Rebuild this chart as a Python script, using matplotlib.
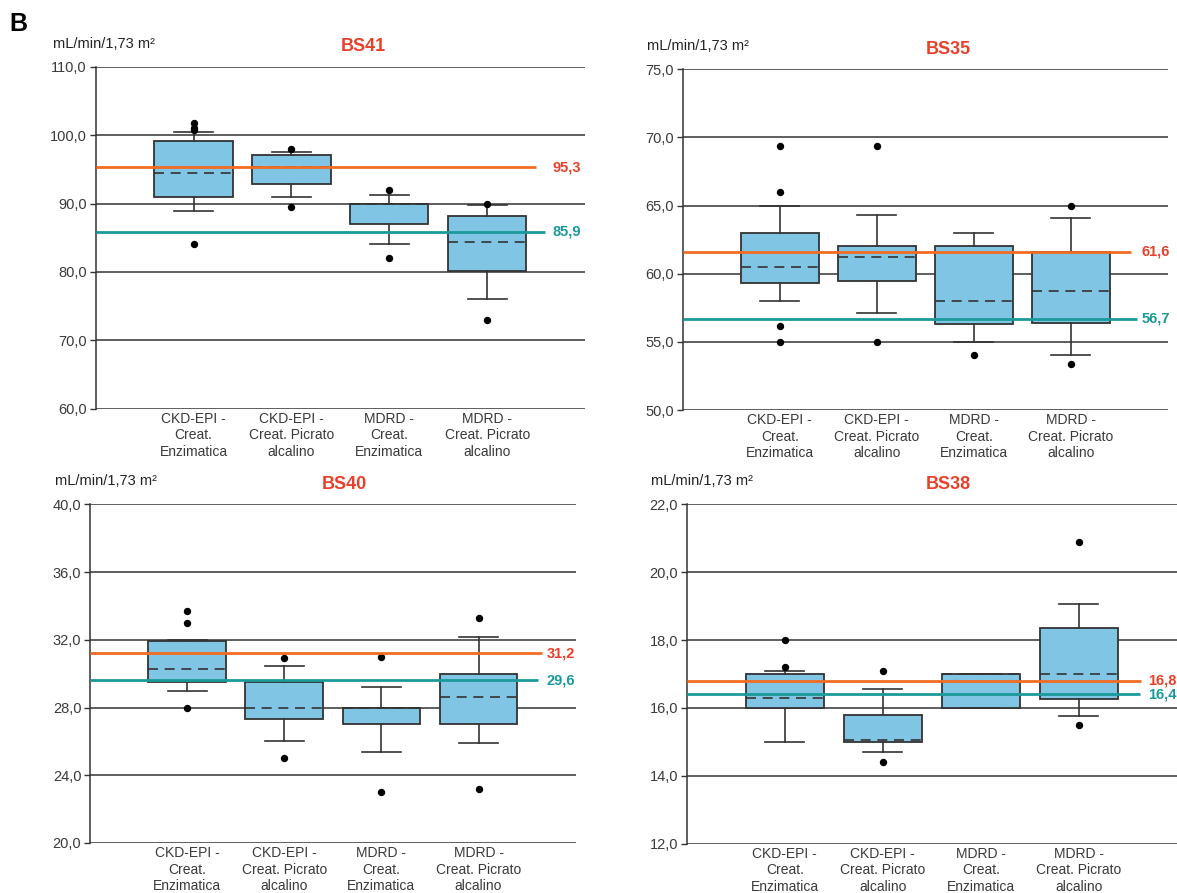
import matplotlib
matplotlib.use("Agg")
import matplotlib.pyplot as plt
from matplotlib.ticker import FuncFormatter, FixedLocator

plt.rcParams["font.family"] = ["Liberation Sans", "DejaVu Sans"]

# ---------------- data ----------------
categories = [
    "CKD-EPI -\nCreat.\nEnzimatica",
    "CKD-EPI -\nCreat. Picrato\nalcalino",
    "MDRD -\nCreat.\nEnzimatica",
    "MDRD -\nCreat. Picrato\nalcalino",
]
unit_label = "mL/min/1,73 m\u00b2"
panel_names = ["BS41", "BS35", "BS40", "BS38"]

# BS41
bs41_q1 = [91.0, 92.9, 87.0, 80.2]
bs41_med = [94.4, 95.3, 90.0, 84.3]
bs41_q3 = [99.1, 97.1, 90.0, 88.2]
bs41_lo = [88.9, 90.9, 84.1, 76.0]
bs41_hi = [100.4, 97.6, 91.2, 89.8]
bs41_out = [[101.7, 101.1, 100.7, 84.1], [97.9, 89.5], [92.0, 82.0], [90.0, 72.9]]
bs41_ticks = [60, 70, 80, 90, 100, 110]

# BS35
bs35_q1 = [59.3, 59.5, 56.3, 56.4]
bs35_med = [60.5, 61.2, 58.0, 58.7]
bs35_q3 = [63.0, 62.0, 62.0, 61.6]
bs35_lo = [58.0, 57.1, 55.0, 54.0]
bs35_hi = [65.0, 64.3, 63.0, 64.1]
bs35_out = [[69.4, 66.0, 56.2, 55.0], [69.4, 55.0], [54.0], [65.0, 53.4]]
bs35_ticks = [50, 55, 60, 65, 70, 75]

# BS40
bs40_q1 = [29.5, 27.3, 27.0, 27.0]
bs40_med = [30.3, 28.0, 28.0, 28.6]
bs40_q3 = [31.9, 29.5, 28.0, 30.0]
bs40_lo = [29.0, 26.0, 25.4, 25.9]
bs40_hi = [32.0, 30.45, 29.2, 32.15]
bs40_out = [[33.7, 33.0, 28.0], [30.9, 25.0], [31.0, 23.0], [33.3, 23.2]]
bs40_ticks = [20, 24, 28, 32, 36, 40]

# BS38
bs38_q1 = [16.0, 15.0, 16.0, 16.25]
bs38_med = [16.3, 15.07, 17.0, 17.0]
bs38_q3 = [17.0, 15.8, 17.0, 18.35]
bs38_lo = [15.0, 14.7, 16.0, 15.77]
bs38_hi = [17.1, 16.56, 17.0, 19.07]
bs38_out = [[18.0, 17.2], [17.1, 14.4], [], [20.9, 15.5]]
bs38_ticks = [12, 14, 16, 18, 20, 22]

# reference levels (upper: orange, lower: teal)
ref_orange = [95.3, 61.6, 31.2, 16.8]
ref_teal = [85.9, 56.7, 29.6, 16.4]

# ---------------- styling ----------------
W, H = 1177, 893
BOX_FILL = "#80c5e3"
DARK = "#333333"
TEXT = "#3a3a3a"
RED = "#e8402a"
ORANGE = "#f26c22"
TEAL = "#1a9a9a"

# axes rectangles in pixels: left, top, right, bottom
axes_px = [
    (95.7, 66.7, 585.0, 408.7),
    (682.7, 69.3, 1167.7, 410.0),
    (90.0, 504.3, 575.7, 843.0),
    (686.7, 504.3, 1176.7, 843.7),
]
title_x = [0.546, 0.547, 0.523, 0.534]
unit_x = [-0.088, -0.074, -0.072, -0.073]
orange_end = [3.50, 3.62, 3.65, 3.64]
teal_end = [3.59, 3.68, 3.61, 3.63]
label_x = [3.67, 3.73, 3.70, 3.71]

panel_stats = [
    (bs41_q1, bs41_med, bs41_q3, bs41_lo, bs41_hi, bs41_out, bs41_ticks),
    (bs35_q1, bs35_med, bs35_q3, bs35_lo, bs35_hi, bs35_out, bs35_ticks),
    (bs40_q1, bs40_med, bs40_q3, bs40_lo, bs40_hi, bs40_out, bs40_ticks),
    (bs38_q1, bs38_med, bs38_q3, bs38_lo, bs38_hi, bs38_out, bs38_ticks),
]


def comma_fmt(v, _pos):
    return f"{v:.1f}".replace(".", ",")


fig = plt.figure(figsize=(W / 100, H / 100), dpi=100)

for i, (q1, med, q3, lo, hi, out, ticks) in enumerate(panel_stats):
    l, t, r, b = axes_px[i]
    ax = fig.add_axes([l / W, 1 - b / H, (r - l) / W, (b - t) / H])

    stats = [
        dict(q1=q1[k], med=med[k], q3=q3[k], whislo=lo[k], whishi=hi[k], fliers=out[k])
        for k in range(len(categories))
    ]
    ax.bxp(
        stats,
        positions=range(len(categories)),
        widths=0.8,
        capwidths=0.4,
        patch_artist=True,
        showfliers=True,
        boxprops=dict(facecolor=BOX_FILL, edgecolor=DARK, linewidth=1.3),
        medianprops=dict(color=DARK, linewidth=1.2, linestyle=(0, (6, 4))),
        whiskerprops=dict(color=DARK, linewidth=1.2),
        capprops=dict(color=DARK, linewidth=1.2),
        flierprops=dict(marker="o", markerfacecolor="black", markeredgecolor="black",
                        markersize=4.3, linestyle="none"),
    )

    # reference levels
    ax.plot([-1, orange_end[i]], [ref_orange[i]] * 2, color=ORANGE, lw=2.0,
            solid_capstyle="butt", zorder=4, clip_on=False)
    ax.plot([-1, teal_end[i]], [ref_teal[i]] * 2, color=TEAL, lw=2.0,
            solid_capstyle="butt", zorder=4, clip_on=False)
    ax.text(label_x[i], ref_orange[i], comma_fmt(ref_orange[i], None), color=RED,
            fontsize=10.5, fontweight="bold", ha="left", va="center", clip_on=False)
    ax.text(label_x[i], ref_teal[i], comma_fmt(ref_teal[i], None), color=TEAL,
            fontsize=10.5, fontweight="bold", ha="left", va="center", clip_on=False)

    ax.set_xlim(-1, 4)
    ax.set_ylim(ticks[0], ticks[-1])
    ax.yaxis.set_major_locator(FixedLocator(ticks))
    ax.yaxis.set_major_formatter(FuncFormatter(comma_fmt))
    ax.set_xticks(range(len(categories)))
    ax.set_xticklabels(categories, fontsize=10, color=TEXT, linespacing=1.2)
    ax.tick_params(axis="x", length=0, pad=2.5)
    ax.tick_params(axis="y", length=4.3, width=1.0, color=DARK, pad=2,
                   labelsize=10.5, labelcolor=TEXT)

    ax.set_axisbelow(True)
    ax.yaxis.grid(True, color=DARK, linewidth=1.1)
    for side in ("top", "right", "bottom"):
        ax.spines[side].set_visible(False)
    ax.spines["left"].set_color(DARK)
    ax.spines["left"].set_linewidth(1.1)

    hgt = b - t
    ax.text(title_x[i], 1 + 20 / hgt, panel_names[i], transform=ax.transAxes,
            color=RED, fontsize=13, fontweight="bold", ha="center", va="center")
    ax.text(unit_x[i], 1 + 23 / hgt, unit_label, transform=ax.transAxes,
            color="#222222", fontsize=10.5, ha="left", va="center")

fig.text(9 / W, 1 - 24 / H, "B", fontsize=18, fontweight="bold", color="black",
         ha="left", va="center")

fig.savefig("out.png", dpi=100, facecolor="white")
